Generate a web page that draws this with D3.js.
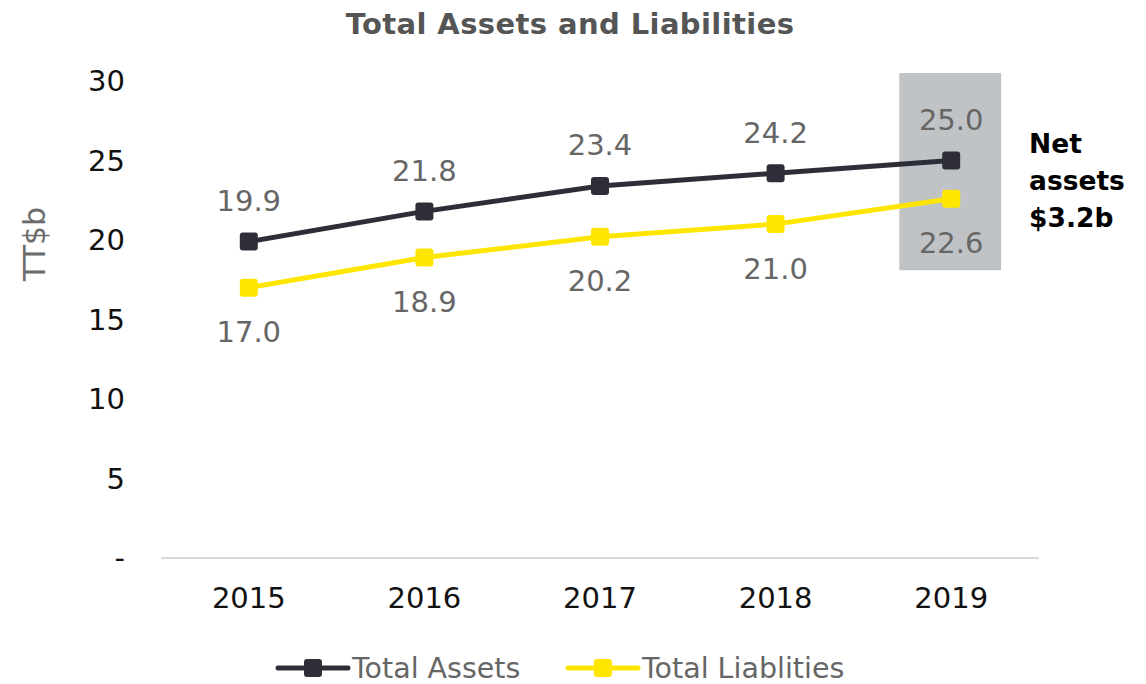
<!DOCTYPE html>
<html>
<head>
<meta charset="utf-8">
<script src="https://cdn.jsdelivr.net/npm/d3@7"></script>
<style>
  body { margin: 0; background: #fff; }
  text { font-family: "DejaVu Sans", sans-serif; }
</style>
</head>
<body>
<div id="chart"></div>
<script>
// chart data
const years = ["2015", "2016", "2017", "2018", "2019"];
const totalAssets = [19.9, 21.8, 23.4, 24.2, 25.0];
const totalLiabilities = [17.0, 18.9, 20.2, 21.0, 22.6];
const yTicks = [0, 5, 10, 15, 20, 25, 30];
const seriesNames = ["Total Assets", "Total Liablities"];
const netAssetsLines = ["Net", "assets", "$3.2b"];

let w = 1146,
    h = 684;

let margin = { top: 81, bottom: 126, left: 161, right: 107 };

let svg = d3.select("#chart")
            .append("svg")
            .attr("width", w)
            .attr("height", h);

let x = d3.scaleBand()
          .domain(years)
          .range([margin.left, w - margin.right]);

let y = d3.scaleLinear()
          .domain([0, 30])
          .range([h - margin.bottom, margin.top]);

const darkColor = "#2e2e38";
const yellowColor = "#ffe600";

// highlight box behind last year
let boxW = x.bandwidth() * 0.58;
svg.append("rect")
   .attr("x", x("2019") + x.bandwidth() / 2 - boxW / 2 - 1)
   .attr("y", y(30.5))
   .attr("width", boxW)
   .attr("height", y(18.1) - y(30.5))
   .attr("fill", "#c0c3c6");

// title
svg.append("text")
   .attr("x", 570)
   .attr("y", 34)
   .attr("text-anchor", "middle")
   .style("font-size", "29px")
   .style("font-weight", "bold")
   .style("fill", "#555555")
   .style("letter-spacing", "0.4px")
   .text("Total Assets and Liabilities");

// baseline
svg.append("line")
   .attr("x1", margin.left)
   .attr("x2", w - margin.right)
   .attr("y1", y(0))
   .attr("y2", y(0))
   .style("stroke", "#d9d9d9")
   .style("stroke-width", 2);

// y tick labels
svg.selectAll(".ytick")
   .data(yTicks)
   .enter()
   .append("text")
   .attr("class", "ytick")
   .attr("x", 125)
   .attr("y", d => y(d))
   .attr("dy", "0.36em")
   .attr("text-anchor", "end")
   .style("font-size", "29px")
   .style("fill", "#111")
   .text(d => d === 0 ? "-" : d);

// x tick labels
svg.selectAll(".xtick")
   .data(years)
   .enter()
   .append("text")
   .attr("class", "xtick")
   .attr("x", d => x(d) + x.bandwidth() / 2)
   .attr("y", 608)
   .attr("text-anchor", "middle")
   .style("font-size", "29px")
   .style("fill", "#111")
   .text(d => d);

// y axis title
svg.append("text")
   .attr("transform", `translate(45, 244) rotate(-90)`)
   .attr("text-anchor", "middle")
   .style("font-size", "30px")
   .style("fill", "#6b6b6b")
   .text("TT$b");

let line = d3.line()
             .x((d, i) => x(years[i]) + x.bandwidth() / 2)
             .y(d => y(d));

let series = [
  { values: totalAssets, color: darkColor, offset: -41 },
  { values: totalLiabilities, color: yellowColor, offset: 44 }
];

series.forEach(s => {
  svg.append("path")
     .datum(s.values)
     .attr("d", line)
     .attr("fill", "none")
     .style("stroke", s.color)
     .style("stroke-width", 5);

  svg.selectAll(null)
     .data(s.values)
     .enter()
     .append("rect")
     .attr("x", (d, i) => x(years[i]) + x.bandwidth() / 2 - 9)
     .attr("y", d => y(d) - 9)
     .attr("width", 18)
     .attr("height", 18)
     .attr("rx", 3)
     .attr("fill", s.color);

  svg.selectAll(null)
     .data(s.values)
     .enter()
     .append("text")
     .attr("x", (d, i) => x(years[i]) + x.bandwidth() / 2)
     .attr("y", d => y(d) + s.offset)
     .attr("dy", "0.36em")
     .attr("text-anchor", "middle")
     .style("font-size", "29px")
     .style("fill", "#666666")
     .text(d => d.toFixed(1));
});

// net assets annotation
svg.selectAll(".net")
   .data(netAssetsLines)
   .enter()
   .append("text")
   .attr("class", "net")
   .attr("x", 1029)
   .attr("y", (d, i) => 153 + i * 37)
   .style("font-size", "26.5px")
   .style("font-weight", "bold")
   .style("fill", "#000")
   .text(d => d);

// legend
let legendX = [278, 568];
let legend = svg.selectAll(".legend")
                .data(seriesNames)
                .enter()
                .append("g")
                .attr("class", "legend")
                .attr("transform", (d, i) => `translate(${legendX[i]}, 668)`);

legend.append("line")
      .attr("x1", 0)
      .attr("x2", 70)
      .style("stroke", (d, i) => series[i].color)
      .style("stroke-width", 5)
      .style("stroke-linecap", "round");

legend.append("rect")
      .attr("x", 26)
      .attr("y", -9)
      .attr("width", 18)
      .attr("height", 18)
      .attr("rx", 3)
      .attr("fill", (d, i) => series[i].color);

legend.append("text")
      .attr("x", 74)
      .attr("dy", "0.36em")
      .style("font-size", "28.5px")
      .style("fill", "#666666")
      .text(d => d);
</script>
</body>
</html>
